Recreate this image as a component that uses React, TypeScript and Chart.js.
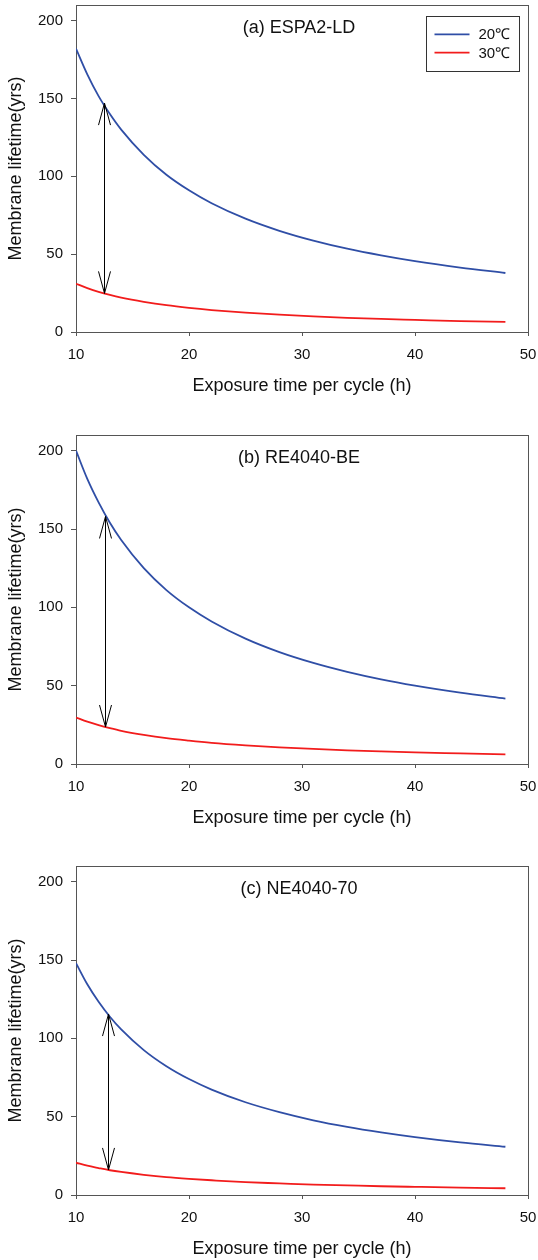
import React, { useEffect, useRef } from "react";
import { Chart, registerables } from "chart.js";

Chart.register(...registerables);

// ---------- data ----------
const exposureHours = [10, 11, 12, 13, 14, 16, 18, 20, 22, 25, 28, 31, 34, 37, 40, 44, 48];
const seriesLabels = ["20℃", "30℃"];

const espaLife20 = [182, 165.5, 151.5, 140, 130, 113.8, 101, 91, 82.7, 72.8, 65, 58.7, 53.5, 49.2, 45.5, 41.4, 37.9];
const espaLife30 = [31, 28.2, 25.8, 23.8, 22.1, 19.4, 17.2, 15.5, 14.1, 12.4, 11.1, 10, 9.1, 8.4, 7.8, 7, 6.5];

const reLife20 = [200, 182, 167, 154, 143, 125, 111, 100, 91, 80, 71.4, 64.5, 58.8, 54, 50, 45.5, 41.7];
const reLife30 = [29.7, 27, 24.8, 22.9, 21.2, 18.6, 16.5, 14.9, 13.5, 11.9, 10.6, 9.6, 8.7, 8, 7.4, 6.8, 6.2];

const neLife20 = [148, 134.5, 123.3, 113.8, 105.7, 92.5, 82.2, 74, 67.3, 59.2, 52.9, 47.7, 43.5, 40, 37, 33.6, 30.8];
const neLife30 = [20.6, 18.7, 17.2, 15.8, 14.7, 12.9, 11.4, 10.3, 9.4, 8.2, 7.4, 6.6, 6.1, 5.6, 5.2, 4.7, 4.3];

const panelTitles = ["(a) ESPA2-LD", "(b) RE4040-BE", "(c) NE4040-70"];
const arrowX = [12.5, 12.6, 12.8];
const arrowTop = [147, 158, 115.5];
const arrowBottom = [24.8, 23.6, 16];

const xAxisTitle = "Exposure time per cycle (h)";
const yAxisTitle = "Membrane lifetime(yrs)";
const xMin = 10, xMax = 50, xStep = 10;
const yMin = 0, yMax = 210, yStep = 50;

const panelSeries = [
  [espaLife20, espaLife30],
  [reLife20, reLife30],
  [neLife20, neLife30],
];

// ---------- styling ----------
const FONT = "'Liberation Sans', Arial, sans-serif";
const seriesColors = ["#2F4EA6", "#F21C1C"];
const axisColor = "#555555";
const panelTops = [0, 430, 861];
const panelBottomPad = [33, 31, 31];
const CANVAS_W = 538;
const CANVAS_H = 430;

function Panel({ index }: { index: number }) {
  const ref = useRef<HTMLCanvasElement | null>(null);

  useEffect(() => {
    const canvas = ref.current;
    if (!canvas) return;

    const series = panelSeries[index];
    const datasets = series.map((vals, si) => ({
      label: seriesLabels[si],
      data: exposureHours.map((x, k) => ({ x, y: vals[k] })),
      borderColor: seriesColors[si],
      backgroundColor: seriesColors[si],
      borderWidth: 1.8,
      pointRadius: 0,
      cubicInterpolationMode: "monotone" as const,
      fill: false,
    }));

    const decorPlugin = {
      id: "decor" + index,
      beforeDatasetsDraw(chart: any) {
        const { ctx, chartArea } = chart;
        ctx.save();
        ctx.strokeStyle = axisColor;
        ctx.lineWidth = 1;
        ctx.strokeRect(
          Math.round(chartArea.left) + 0.5,
          Math.round(chartArea.top) + 0.5,
          Math.round(chartArea.right - chartArea.left),
          Math.round(chartArea.bottom - chartArea.top)
        );
        ctx.restore();
      },
      afterDatasetsDraw(chart: any) {
        const { ctx, chartArea, scales } = chart;
        const xs = scales.x;
        const ys = scales.y;
        ctx.save();
        // double-headed arrow
        const px = Math.round(xs.getPixelForValue(arrowX[index])) + 0.5;
        const pTop = ys.getPixelForValue(arrowTop[index]);
        const pBot = ys.getPixelForValue(arrowBottom[index]);
        ctx.strokeStyle = "#000";
        ctx.lineWidth = 1;
        ctx.beginPath();
        ctx.moveTo(px, pTop);
        ctx.lineTo(px, pBot);
        ctx.moveTo(px - 6, pTop + 22);
        ctx.lineTo(px, pTop);
        ctx.lineTo(px + 6, pTop + 22);
        ctx.moveTo(px - 6, pBot - 22);
        ctx.lineTo(px, pBot);
        ctx.lineTo(px + 6, pBot - 22);
        ctx.stroke();

        // panel title
        ctx.fillStyle = "#111";
        ctx.font = `18px ${FONT}`;
        ctx.textAlign = "center";
        ctx.textBaseline = "middle";
        ctx.fillText(
          panelTitles[index],
          (chartArea.left + chartArea.right) / 2 - 3,
          chartArea.top + 23
        );

        // legend (first panel only)
        if (index === 0) {
          const bx = Math.round(chartArea.right - 102) + 0.5;
          const by = Math.round(chartArea.top + 11) + 0.5;
          const bw = 93;
          const bh = 55;
          ctx.fillStyle = "#fff";
          ctx.fillRect(bx, by, bw, bh);
          ctx.strokeStyle = "#333";
          ctx.lineWidth = 1;
          ctx.strokeRect(bx, by, bw, bh);
          const rows = [chartArea.top + 29.3, chartArea.top + 47.7];
          chart.data.datasets.forEach((ds: any, di: number) => {
            const ry = rows[di];
            ctx.strokeStyle = ds.borderColor;
            ctx.lineWidth = 1.8;
            ctx.beginPath();
            ctx.moveTo(bx + 8, ry);
            ctx.lineTo(bx + 43, ry);
            ctx.stroke();
            ctx.fillStyle = "#111";
            ctx.font = `15px ${FONT}`;
            ctx.textAlign = "left";
            ctx.textBaseline = "middle";
            ctx.fillText(ds.label, bx + 52, ry + 1);
          });
        }
        ctx.restore();
      },
    };

    const chart = new Chart(canvas, {
      type: "line",
      data: { datasets },
      options: {
        animation: false,
        responsive: false,
        maintainAspectRatio: false,
        devicePixelRatio: 1,
        layout: { padding: { top: 5, right: 10, bottom: panelBottomPad[index], left: 0 } },
        plugins: {
          legend: { display: false },
          tooltip: { enabled: false },
          title: { display: false },
        },
        scales: {
          x: {
            type: "linear",
            min: xMin,
            max: xMax,
            border: { display: true, color: axisColor, width: 1 },
            grid: {
              display: true,
              drawOnChartArea: false,
              drawTicks: true,
              tickLength: 4,
              tickColor: axisColor,
            },
            ticks: {
              stepSize: xStep,
              padding: 10,
              color: "#111",
              font: { family: FONT, size: 15 },
              maxRotation: 0,
            },
            title: {
              display: true,
              text: xAxisTitle,
              color: "#111",
              font: { family: FONT, size: 18 },
              padding: { top: 0, bottom: 0 },
            },
            afterFit: (s: any) => {
              s.height = 65;
              s.paddingLeft = 0;
              s.paddingRight = 0;
            },
          },
          y: {
            type: "linear",
            min: yMin,
            max: yMax,
            border: { display: true, color: axisColor, width: 1 },
            grid: {
              display: true,
              drawOnChartArea: false,
              drawTicks: true,
              tickLength: 5,
              tickColor: axisColor,
            },
            ticks: {
              stepSize: yStep,
              includeBounds: false,
              padding: 8,
              color: "#111",
              font: { family: FONT, size: 15 },
            },
            title: {
              display: true,
              text: yAxisTitle,
              color: "#111",
              font: { family: FONT, size: 18 },
              padding: { top: 5, bottom: 0 },
            },
            afterFit: (s: any) => {
              s.width = 76;
              s.paddingTop = 0;
              s.paddingBottom = 0;
            },
          },
        },
      } as any,
      plugins: [decorPlugin],
    });

    return () => {
      chart.destroy();
    };
  }, [index]);

  return (
    <canvas
      ref={ref}
      width={CANVAS_W}
      height={CANVAS_H}
      style={{
        position: "absolute",
        left: 0,
        top: panelTops[index],
        width: CANVAS_W,
        height: CANVAS_H,
        display: "block",
      }}
    />
  );
}

export default function App() {
  return (
    <div
      style={{
        position: "absolute",
        left: 0,
        top: 0,
        width: CANVAS_W,
        height: 1260,
        background: "#fff",
        overflow: "hidden",
      }}
    >
      {[0, 1, 2].map((i) => (
        <Panel key={i} index={i} />
      ))}
    </div>
  );
}
